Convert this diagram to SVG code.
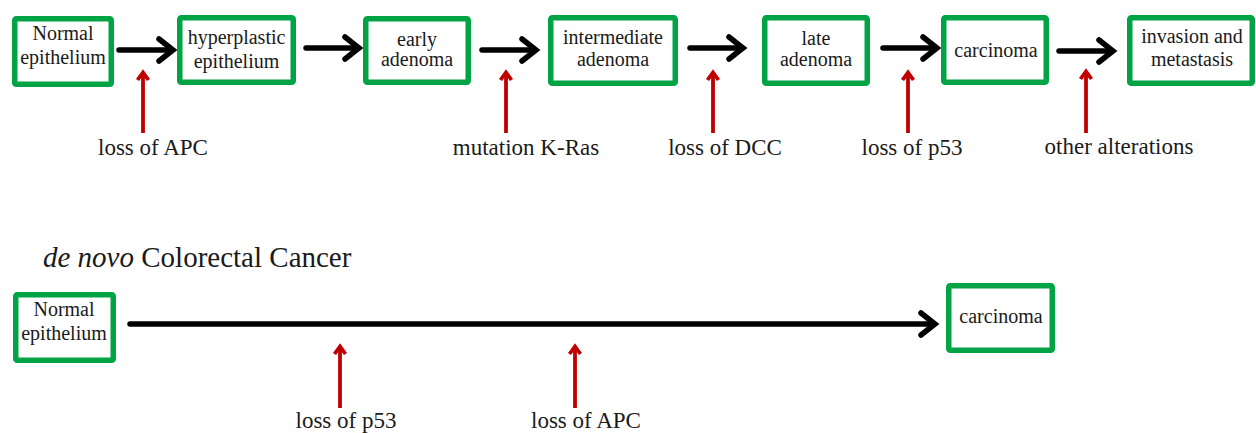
<svg xmlns="http://www.w3.org/2000/svg" width="1256" height="433" viewBox="0 0 1256 433">
  <style>
    .box { fill: #ffffff; stroke: #00A444; stroke-width: 5.5; }
    .bt { font-family: "Liberation Serif", "Times New Roman", serif; font-size: 20px; fill: #1a1a1a; text-anchor: middle; }
    .lbl { font-family: "Liberation Serif", "Times New Roman", serif; font-size: 23px; fill: #1a1a1a; text-anchor: middle; }
    .title { font-family: "Liberation Serif", "Times New Roman", serif; font-size: 29px; fill: #1a1a1a; }
    .blk { fill: none; stroke: #000000; stroke-width: 5.5; stroke-linecap: round; marker-end: url(#bh); }
    .red { fill: none; stroke: #C00000; stroke-width: 3.8; stroke-linecap: butt; marker-end: url(#rh); }
  </style>
  <defs>
    <marker id="bh" viewBox="-20 -18 28 36" markerWidth="28" markerHeight="36" refX="0" refY="0" orient="auto" markerUnits="userSpaceOnUse">
      <path d="M-12,-11 L2,0 L-12,11" fill="none" stroke="#000000" stroke-width="5.5" stroke-linecap="round" stroke-linejoin="miter"/>
    </marker>
    <marker id="rh" viewBox="-12 -10 16 20" markerWidth="16" markerHeight="20" refX="0" refY="0" orient="auto" markerUnits="userSpaceOnUse">
      <path d="M-7,-5.5 L0.5,0 L-7,5.5" fill="none" stroke="#C00000" stroke-width="3.8" stroke-linejoin="miter"/>
    </marker>
  </defs>
  <rect width="1256" height="433" fill="#ffffff"/>

  <g id="connectors">
    <path class="blk" d="M119,50 H171"/>
    <path class="blk" d="M306,48 H357"/>
    <path class="blk" d="M482,50 H534"/>
    <path class="blk" d="M690,48 H741"/>
    <path class="blk" d="M883,48 H935"/>
    <path class="blk" d="M1059,51 H1111"/>
    <path class="blk" d="M130,324 H933"/>
    <path class="red" d="M143,133 V73"/>
    <path class="red" d="M506,133 V73"/>
    <path class="red" d="M713,133 V73"/>
    <path class="red" d="M908,133 V73"/>
    <path class="red" d="M1086,133 V72"/>
    <path class="red" d="M340,408 V347"/>
    <path class="red" d="M575,408 V347"/>
  </g>

  <g id="n-normal1">
    <rect class="box" x="14.75" y="18.75" width="96.5" height="65.5" rx="1.5"/>
    <text class="bt" x="63" y="40">Normal</text>
    <text class="bt" x="63" y="64">epithelium</text>
  </g>
  <g id="n-hyperplastic">
    <rect class="box" x="179.75" y="17.75" width="113.5" height="64.5" rx="1.5"/>
    <text class="bt" x="236.5" y="44">hyperplastic</text>
    <text class="bt" x="236.5" y="68">epithelium</text>
  </g>
  <g id="n-early">
    <rect class="box" x="365.75" y="18.75" width="102.5" height="63.5" rx="1.5"/>
    <text class="bt" x="417" y="46">early</text>
    <text class="bt" x="417" y="66">adenoma</text>
  </g>
  <g id="n-intermediate">
    <rect class="box" x="550.75" y="17.75" width="124.5" height="65.5" rx="1.5"/>
    <text class="bt" x="613" y="44">intermediate</text>
    <text class="bt" x="613" y="66">adenoma</text>
  </g>
  <g id="n-late">
    <rect class="box" x="764.75" y="17.75" width="102.5" height="65.5" rx="1.5"/>
    <text class="bt" x="816" y="45">late</text>
    <text class="bt" x="816" y="66">adenoma</text>
  </g>
  <g id="n-carcinoma1">
    <rect class="box" x="943.75" y="17.75" width="102.5" height="64.5" rx="1.5"/>
    <text class="bt" x="996" y="57">carcinoma</text>
  </g>
  <g id="n-invasion">
    <rect class="box" x="1129.75" y="17.75" width="122.5" height="65.5" rx="1.5"/>
    <text class="bt" x="1192" y="43">invasion and</text>
    <text class="bt" x="1192" y="66">metastasis</text>
  </g>

  <g id="labels-top">
    <text class="lbl" x="153" y="155">loss of APC</text>
    <text class="lbl" x="526" y="155">mutation K-Ras</text>
    <text class="lbl" x="725" y="155">loss of DCC</text>
    <text class="lbl" x="912" y="155">loss of p53</text>
    <text class="lbl" x="1119" y="154">other alterations</text>
  </g>

  <text class="title" x="43" y="267"><tspan font-style="italic">de novo</tspan> Colorectal Cancer</text>

  <g id="n-normal2">
    <rect class="box" x="15.75" y="294.75" width="97.5" height="65.5" rx="1.5"/>
    <text class="bt" x="64" y="316">Normal</text>
    <text class="bt" x="64" y="340">epithelium</text>
  </g>
  <g id="n-carcinoma2">
    <rect class="box" x="948.75" y="285.75" width="103.5" height="64.5" rx="1.5"/>
    <text class="bt" x="1001" y="323">carcinoma</text>
  </g>

  <g id="labels-bottom">
    <text class="lbl" x="346" y="428">loss of p53</text>
    <text class="lbl" x="586" y="428">loss of APC</text>
  </g>
</svg>
